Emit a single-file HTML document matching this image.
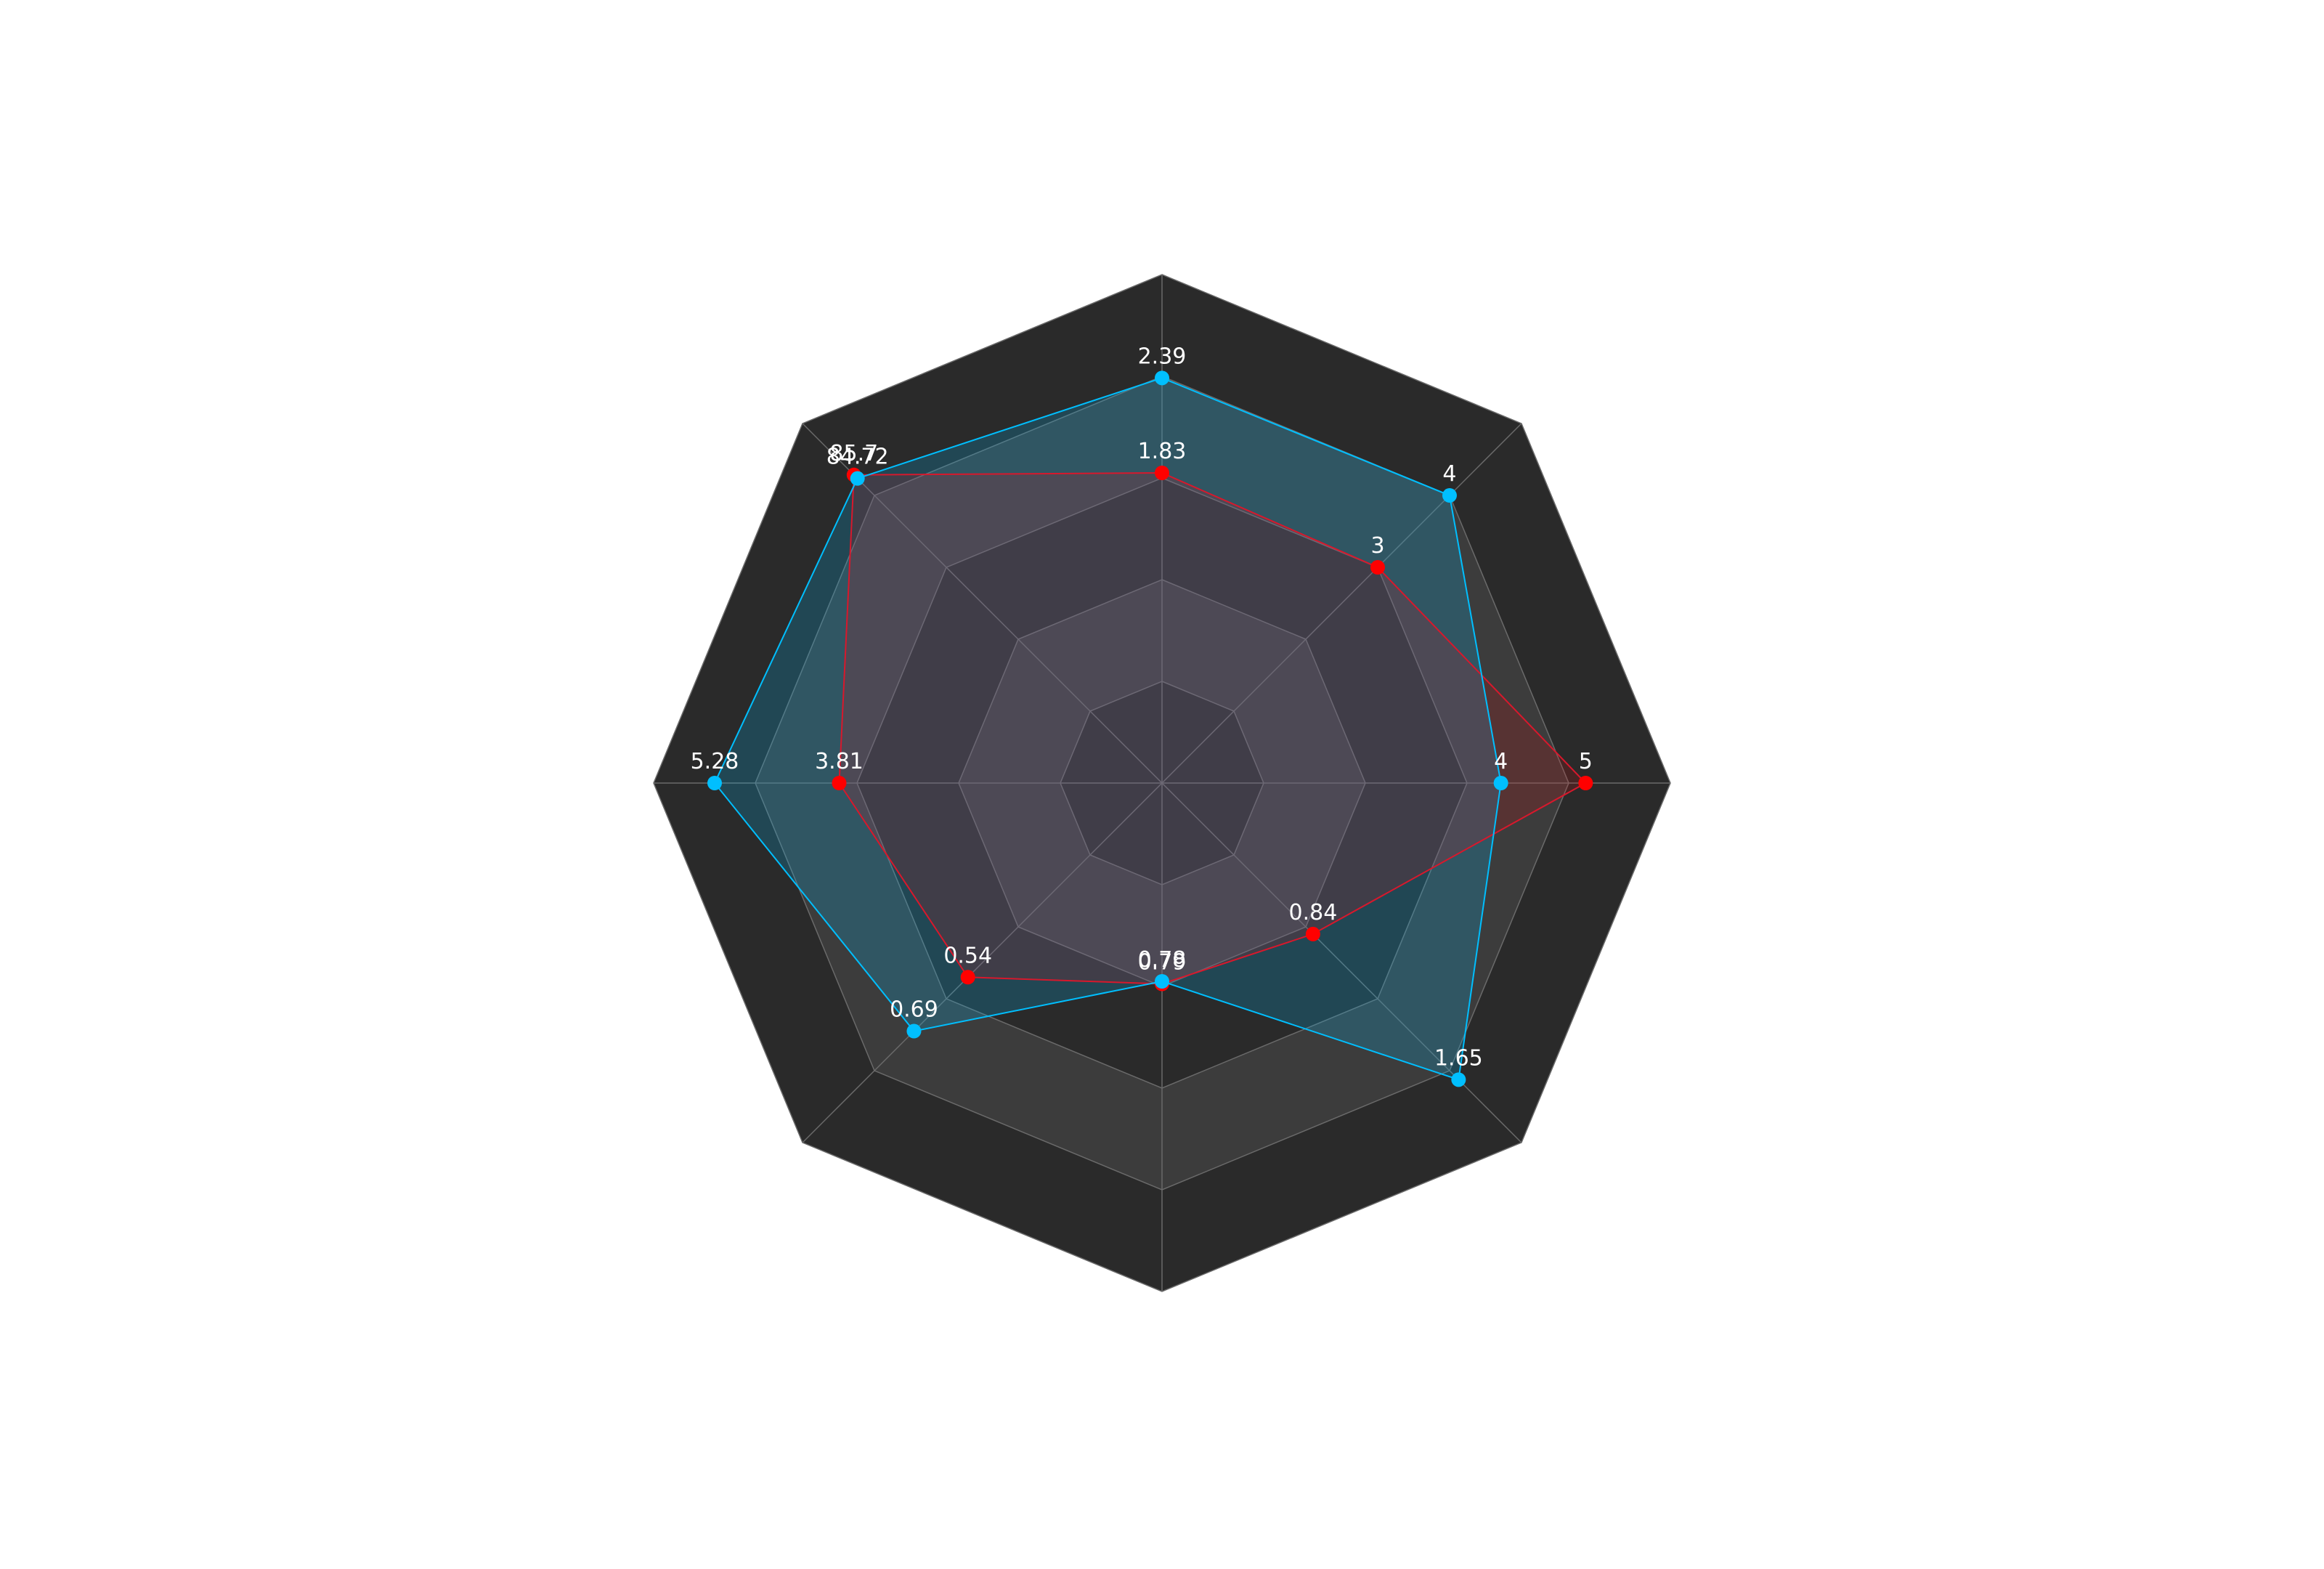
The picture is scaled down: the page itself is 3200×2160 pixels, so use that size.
<!DOCTYPE html>
<html><head><meta charset="utf-8"><style>
html,body{margin:0;padding:0;background:#fff;}
svg{display:block;font-family:"DejaVu Sans","Liberation Sans",sans-serif;}
</style></head><body>
<svg id="chart" width="3200" height="2160" viewBox="0 0 3200 2160" xmlns="http://www.w3.org/2000/svg">
<g id="grid"></g>
<g id="areas"></g>
<g id="series"></g>
<g id="labels"></g>
</svg>
<script>
const axisMax = [3, 5, 6, 2, 2, 1, 6, 100];
const redValues = [1.83, 3, 5, 0.84, 0.79, 0.54, 3.81, 85.7];
const blueValues = [2.39, 4, 4, 1.65, 0.78, 0.69, 5.28, 84.72];
const redLabels = ["1.83", "3", "5", "0.84", "0.79", "0.54", "3.81", "85.7"];
const blueLabels = ["2.39", "4", "4", "1.65", "0.78", "0.69", "5.28", "84.72"];

const NS = "http://www.w3.org/2000/svg";
const cx = 1600, cy = 1078, R = 700, N = 8, levels = 5;
function ang(i){ return -Math.PI/2 + i*2*Math.PI/N; }
function pt(i, r){ return [cx + r*Math.cos(ang(i)), cy + r*Math.sin(ang(i))]; }
function mk(tag, attrs, parent){ const e=document.createElementNS(NS,tag); for(const k in attrs) e.setAttribute(k,attrs[k]); parent.appendChild(e); return e; }
const grid = document.getElementById('grid');
for(let l=levels; l>=1; l--){
  const r = R*l/levels;
  const pts = [];
  for(let i=0;i<N;i++) pts.push(pt(i,r).join(','));
  const p = mk('polygon',{points:pts.join(' '), fill:(l%2===1)?'#2a2a2a':'#3c3c3c', stroke:'#6a6a6a','stroke-width':1.5}, grid);
  
  
}
for(let i=0;i<N;i++){
  const [x,y]=pt(i,R);
  const ln = mk('line',{x1:cx,y1:cy,x2:x,y2:y,stroke:'#6a6a6a','stroke-width':1.5}, grid);
  
  
}
function pointsOf(vals){ return vals.map((v,i)=>pt(i, R*v/axisMax[i])); }
function drawArea(vals, color, op, name){
  const pts = pointsOf(vals);
  const poly = mk('polygon',{points:pts.map(p=>p.join(',')).join(' '), fill:color,'fill-opacity':op, stroke:'none'}, document.getElementById('areas'));
  
  
}
function drawSeries(vals, labs, color, lineColor, name){
  const g = document.getElementById('series');
  const lg = document.getElementById('labels');
  const pts = pointsOf(vals);
  const line = mk('polygon',{points:pts.map(p=>p.join(',')).join(' '), fill:'none', stroke:lineColor,'stroke-width':2}, g);
  
  
  pts.forEach((p,i)=>{
    const c = mk('circle',{cx:p[0],cy:p[1],r:10,fill:color}, g);
    
    
    const t = mk('text',{x:p[0],y:p[1]-20,'text-anchor':'middle','font-size':30,fill:'#ffffff'}, lg);
    t.textContent = labs[i];
    
    
  });
}
drawArea(blueValues, '#00bfff', 0.2, 'blue-series');
drawArea(redValues, '#ff0000', 0.14, 'red-series');
drawSeries(redValues, redLabels, '#ff0000', '#d8182c', 'red-series');
drawSeries(blueValues, blueLabels, '#00bfff', '#00bfff', 'blue-series');
</script>
</body></html>
